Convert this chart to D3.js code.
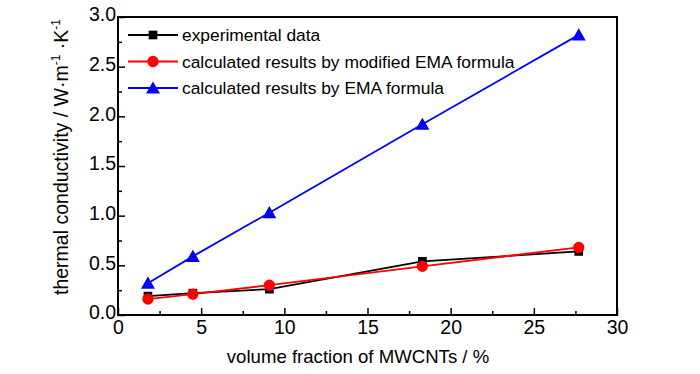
<!DOCTYPE html>
<html><head><meta charset="utf-8">
<script src="https://cdn.jsdelivr.net/npm/d3@7"></script>
<style>body{margin:0;background:#fff}text{font-family:"Liberation Sans",Arial,sans-serif}</style>
</head><body><svg id="c" width="700" height="374"></svg>
<script>
const xValues = [1.8, 4.5, 9.1, 18.3, 27.7];
const experimental = [0.19, 0.22, 0.26, 0.54, 0.64];
const modifiedEMA = [0.16, 0.21, 0.30, 0.49, 0.68];
const emaFormula = [0.32, 0.59, 1.03, 1.92, 2.82];
const seriesNames = ["experimental data", "calculated results by modified EMA formula", "calculated results by EMA formula"];
const xTicks = [0, 5, 10, 15, 20, 25, 30];
const yTicks = [0.0, 0.5, 1.0, 1.5, 2.0, 2.5, 3.0];

const svg = d3.select("#c");
const L = 118, R = 617, T = 17, B = 315;
const x = d3.scaleLinear().domain([0, 30]).range([L, R]);
const y = d3.scaleLinear().domain([0, 3]).range([B, T]);

svg.append("rect").attr("x", L).attr("y", T).attr("width", R - L).attr("height", B - T)
  .attr("fill", "none").attr("stroke", "#000").attr("stroke-width", 2);

const xAxis = svg.append("g").attr("transform", `translate(0,${B})`)
  .call(d3.axisBottom(x).tickValues(d3.range(0, 30.01, 2.5)).tickSize(-7)
    .tickFormat(d => xTicks.includes(d) ? d3.format("d")(d) : ""));
xAxis.selectAll(".tick line").attr("y2", d => (d % 5 === 0 ? -7 : -4)).attr("stroke-width", 1.5);
xAxis.select(".domain").remove();
xAxis.selectAll("text").attr("font-size", 19.5).attr("fill", "#000").attr("dy", "0.71em").attr("y", 5);

const yAxis = svg.append("g").attr("transform", `translate(${L},0)`)
  .call(d3.axisLeft(y).tickValues(d3.range(0, 3.001, 0.25)).tickSize(-7).tickPadding(2)
    .tickFormat(d => yTicks.some(t => Math.abs(t - d) < 1e-9) ? d3.format(".1f")(d) : ""));
yAxis.selectAll(".tick line").attr("x2", d => (Math.abs(d * 2 - Math.round(d * 2)) < 1e-9 ? 7 : 4)).attr("stroke-width", 1.5);
yAxis.select(".domain").remove();
yAxis.selectAll("text").attr("font-size", 19.5).attr("fill", "#000").attr("dy", "0.2em");

const series = [
  {vals: experimental, color: "#000", shape: d3.symbolSquare, size: 75},
  {vals: modifiedEMA, color: "#ff0000", shape: d3.symbolCircle, size: 100},
  {vals: emaFormula, color: "#0000ff", shape: d3.symbolTriangle, size: 85}
];
const line = d3.line().x((d, i) => x(xValues[i])).y(d => y(d));
const order = [2, 0, 1];
order.forEach(k => {
  const s = series[k];
  svg.append("path").datum(s.vals).attr("d", line).attr("fill", "none")
    .attr("stroke", s.color).attr("stroke-width", 1.8);
});
order.forEach(k => {
  const s = series[k];
  svg.selectAll(null).data(s.vals).enter().append("path")
    .attr("d", d3.symbol().type(s.shape).size(s.size))
    .attr("transform", (d, i) => `translate(${x(xValues[i])},${y(d) + (s.shape === d3.symbolTriangle ? 1.5 : 0)})`)
    .attr("fill", s.color);
});

seriesNames.forEach((name, i) => {
  const s = series[i];
  const ly = 35 + i * 26.5;
  svg.append("line").attr("x1", 128).attr("x2", 178).attr("y1", ly).attr("y2", ly)
    .attr("stroke", s.color).attr("stroke-width", 1.8);
  svg.append("path").attr("d", d3.symbol().type(s.shape).size(s.size))
    .attr("transform", `translate(153,${ly + (s.shape === d3.symbolTriangle ? 1.5 : 0)})`).attr("fill", s.color);
  svg.append("text").attr("x", 182).attr("y", ly).attr("dy", "0.36em")
    .attr("font-size", 17.4).attr("fill", "#000").text(name);
});

svg.append("text").attr("x", 358).attr("y", 363).attr("text-anchor", "middle")
  .attr("font-size", 18.6).attr("fill", "#000").text("volume fraction of MWCNTs / %");

const yt = svg.append("text").attr("transform", "translate(68,157) rotate(-90)")
  .attr("text-anchor", "middle").attr("font-size", 19.5).attr("fill", "#000");
yt.append("tspan").text("thermal conductivity / W·m");
yt.append("tspan").attr("dy", -8).attr("font-size", 12).text("-1");
yt.append("tspan").attr("dy", 8).text(" ·K");
yt.append("tspan").attr("dy", -8).attr("font-size", 12).text("-1");
</script></body></html>
